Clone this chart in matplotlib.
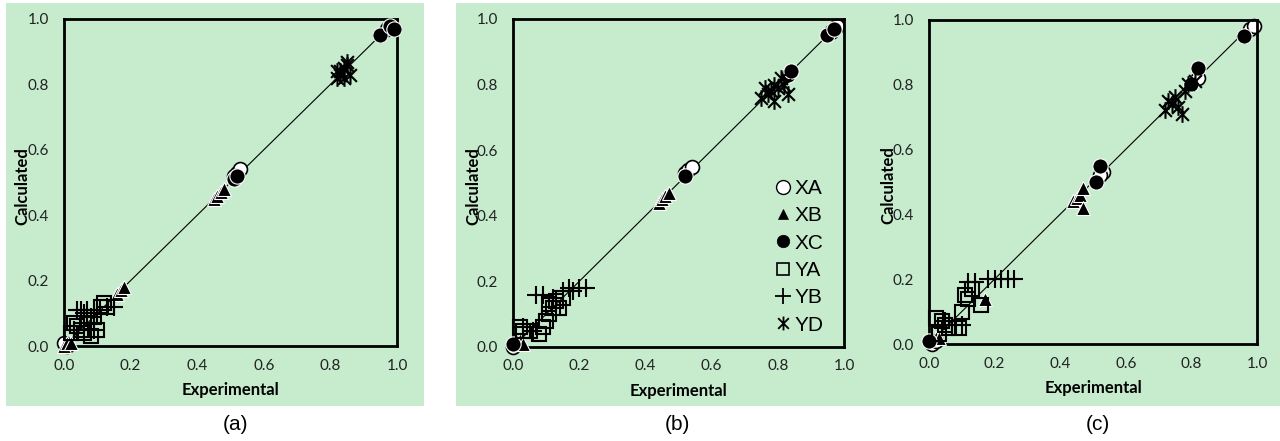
import matplotlib.pyplot as plt
from matplotlib.patches import Rectangle
from matplotlib.path import Path

# (a) panel data: experimental vs calculated
a_xa_x = [0.97, 0.98, 0.99, 0.95, 0.52, 0.53, 0.51, 0.01, 0.00]
a_xa_y = [0.97, 0.98, 0.97, 0.95, 0.53, 0.54, 0.52, 0.00, 0.01]
a_xb_x = [0.45, 0.46, 0.47, 0.48, 0.16, 0.17, 0.18, 0.00, 0.01, 0.02]
a_xb_y = [0.45, 0.46, 0.47, 0.48, 0.16, 0.17, 0.18, 0.00, 0.01, 0.01]
a_xc_x = [0.95, 0.98, 0.99, 0.51, 0.52]
a_xc_y = [0.95, 0.98, 0.97, 0.51, 0.52]
a_ya_x = [0.03, 0.04, 0.05, 0.06, 0.08, 0.10, 0.11, 0.13, 0.09, 0.07, 0.12, 0.02]
a_ya_y = [0.07, 0.06, 0.05, 0.04, 0.03, 0.05, 0.12, 0.12, 0.09, 0.07, 0.13, 0.04]
a_yb_x = [0.04, 0.05, 0.06, 0.08, 0.10, 0.13, 0.15, 0.03, 0.09, 0.07]
a_yb_y = [0.11, 0.11, 0.10, 0.09, 0.10, 0.12, 0.12, 0.05, 0.05, 0.11]
a_yd_x = [0.82, 0.83, 0.84, 0.85, 0.83, 0.84, 0.86, 0.82, 0.85]
a_yd_y = [0.82, 0.83, 0.85, 0.86, 0.84, 0.82, 0.83, 0.84, 0.87]

# (b)
b_xa_x = [0.96, 0.97, 0.98, 0.52, 0.53, 0.54, 0.00, 0.01]
b_xa_y = [0.96, 0.97, 0.98, 0.53, 0.54, 0.55, 0.00, 0.01]
b_xb_x = [0.44, 0.45, 0.46, 0.47, 0.01, 0.02, 0.03]
b_xb_y = [0.44, 0.45, 0.46, 0.47, 0.01, 0.02, 0.01]
b_xc_x = [0.95, 0.97, 0.52, 0.83, 0.84, 0.00]
b_xc_y = [0.95, 0.97, 0.52, 0.83, 0.84, 0.01]
b_ya_x = [0.10, 0.11, 0.12, 0.13, 0.15, 0.02, 0.05, 0.08, 0.09, 0.03, 0.11, 0.14]
b_ya_y = [0.08, 0.10, 0.12, 0.14, 0.15, 0.06, 0.05, 0.04, 0.06, 0.05, 0.13, 0.12]
b_yb_x = [0.07, 0.09, 0.15, 0.17, 0.20, 0.22, 0.03, 0.06, 0.12, 0.18]
b_yb_y = [0.16, 0.16, 0.17, 0.18, 0.18, 0.18, 0.06, 0.05, 0.15, 0.17]
b_yd_x = [0.75, 0.77, 0.78, 0.79, 0.80, 0.81, 0.82, 0.83, 0.79, 0.76]
b_yd_y = [0.76, 0.77, 0.78, 0.80, 0.79, 0.82, 0.80, 0.77, 0.75, 0.79]

# (c)
c_xa_x = [0.96, 0.98, 0.99, 0.82, 0.53, 0.52, 0.01, 0.02]
c_xa_y = [0.95, 0.97, 0.98, 0.82, 0.53, 0.52, 0.00, 0.01]
c_xb_x = [0.44, 0.45, 0.46, 0.47, 0.47, 0.17, 0.02, 0.03]
c_xb_y = [0.44, 0.45, 0.46, 0.48, 0.42, 0.14, 0.02, 0.02]
c_xc_x = [0.96, 0.82, 0.80, 0.52, 0.51, 0.00]
c_xc_y = [0.95, 0.85, 0.80, 0.55, 0.50, 0.01]
c_ya_x = [0.02, 0.04, 0.06, 0.09, 0.10, 0.11, 0.16, 0.13, 0.03, 0.12, 0.05]
c_ya_y = [0.08, 0.07, 0.05, 0.05, 0.10, 0.15, 0.12, 0.17, 0.03, 0.14, 0.06]
c_yb_x = [0.12, 0.14, 0.18, 0.20, 0.22, 0.24, 0.26, 0.10, 0.05, 0.08]
c_yb_y = [0.19, 0.19, 0.20, 0.20, 0.20, 0.20, 0.20, 0.06, 0.07, 0.06]
c_yd_x = [0.72, 0.74, 0.76, 0.77, 0.75, 0.79, 0.81, 0.73, 0.78]
c_yd_y = [0.72, 0.74, 0.73, 0.71, 0.76, 0.80, 0.81, 0.75, 0.78]

series_names = ['XA', 'XB', 'XC', 'YA', 'YB', 'YD']
panel_labels = ['(a)', '(b)', '(c)']

panels = [
    [(a_xa_x, a_xa_y), (a_xb_x, a_xb_y), (a_xc_x, a_xc_y), (a_ya_x, a_ya_y), (a_yb_x, a_yb_y), (a_yd_x, a_yd_y)],
    [(b_xa_x, b_xa_y), (b_xb_x, b_xb_y), (b_xc_x, b_xc_y), (b_ya_x, b_ya_y), (b_yb_x, b_yb_y), (b_yd_x, b_yd_y)],
    [(c_xa_x, c_xa_y), (c_xb_x, c_xb_y), (c_xc_x, c_xc_y), (c_ya_x, c_ya_y), (c_yb_x, c_yb_y), (c_yd_x, c_yd_y)],
]

# Excel-like "star" marker: an X with a vertical stroke
star = Path([(-1, -1), (1, 1), (-1, 1), (1, -1), (0, -1.3), (0, 1.3)],
            [Path.MOVETO, Path.LINETO, Path.MOVETO, Path.LINETO, Path.MOVETO, Path.LINETO])

styles = [
    dict(marker='o', mfc='white', mec='black', ms=10, mew=1.2),
    dict(marker='^', mfc='black', mec='white', ms=10, mew=0.8),
    dict(marker='o', mfc='black', mec='white', ms=11, mew=0.8),
    dict(marker='s', mfc='none', mec='black', ms=10, mew=1.5),
    dict(marker='+', mfc='none', mec='black', ms=13, mew=1.5),
    dict(marker=star, mfc='none', mec='black', ms=12, mew=1.5),
]
legend_styles = [
    dict(marker='o', mfc='white', mec='black', ms=10, mew=1.0),
    dict(marker='^', mfc='black', mec='black', ms=7, mew=0.5),
    dict(marker='o', mfc='black', mec='black', ms=9, mew=0.5),
    dict(marker='s', mfc='none', mec='black', ms=9, mew=1.2),
    dict(marker='+', mfc='none', mec='black', ms=12, mew=1.3),
    dict(marker=star, mfc='none', mec='black', ms=10, mew=1.3),
]

green = '#C6EBCD'
fig = plt.figure(figsize=(12.8, 4.41), dpi=100)
W, H = 1280, 441

# green backgrounds (behind the axes)
fig.patches.append(Rectangle((6 / W, 1 - 406 / H), 418 / W, 403 / H, transform=fig.transFigure,
                             facecolor=green, edgecolor='none', zorder=-10))
fig.patches.append(Rectangle((456 / W, 1 - 406 / H), 824 / W, 403 / H, transform=fig.transFigure,
                             facecolor=green, edgecolor='none', zorder=-10))

# axes boxes in pixels: left, right, top, bottom
boxes = [(64, 397, 19, 346), (513, 844, 19, 347), (929, 1257, 19.5, 344)]
ylabel_x = [-0.126, -0.12, -0.125]
label_x = [235, 677, 1098]

for i, (l, r, t, b) in enumerate(boxes):
    ax = fig.add_axes([l / W, 1 - b / H, (r - l) / W, (b - t) / H])
    ax.set_facecolor('none')
    ax.plot([0, 1], [0, 1], color='black', lw=0.8, zorder=1)
    for j, (xs, ys) in enumerate(panels[i]):
        ax.plot(xs, ys, linestyle='none', clip_on=False, zorder=2 + j, **styles[j])
    ax.set_xlim(0, 1)
    ax.set_ylim(0, 1)
    ax.set_xticks([0, 0.2, 0.4, 0.6, 0.8, 1.0])
    ax.set_yticks([0, 0.2, 0.4, 0.6, 0.8, 1.0])
    ax.set_xticklabels(['0.0', '0.2', '0.4', '0.6', '0.8', '1.0'])
    ax.set_yticklabels(['0.0', '0.2', '0.4', '0.6', '0.8', '1.0'])
    ax.tick_params(length=0, labelsize=11, colors='#222222')
    ax.tick_params(axis='y', pad=11)
    ax.tick_params(axis='x', pad=9)
    for lab in ax.get_xticklabels() + ax.get_yticklabels():
        lab.set_family('Lato')
    for s in ax.spines.values():
        s.set_linewidth(2)
        s.set_color('black')
    ax.set_xlabel('Experimental', fontsize=12, fontweight='bold', family='Lato', va='center')
    ax.set_ylabel('Calculated', fontsize=12, fontweight='bold', family='Lato', va='center')
    ax.xaxis.set_label_coords(0.5, -0.135)
    ax.yaxis.set_label_coords(ylabel_x[i], 0.49)
    fig.text(label_x[i] / W, 1 - 425 / H, panel_labels[i], ha='center', va='center',
             fontsize=15, family='Liberation Sans')

    if i == 1:
        handles = [plt.Line2D([], [], linestyle='none', **legend_styles[k]) for k in range(6)]
        ax.legend(handles, series_names, loc='center left', bbox_to_anchor=(0.76, 0.275),
                  frameon=False, prop={'family': 'Liberation Sans', 'size': 15},
                  handlelength=0.8, handletextpad=0.15, labelspacing=0.4, borderpad=0)

fig.savefig('out.png', dpi=100, facecolor='white')
